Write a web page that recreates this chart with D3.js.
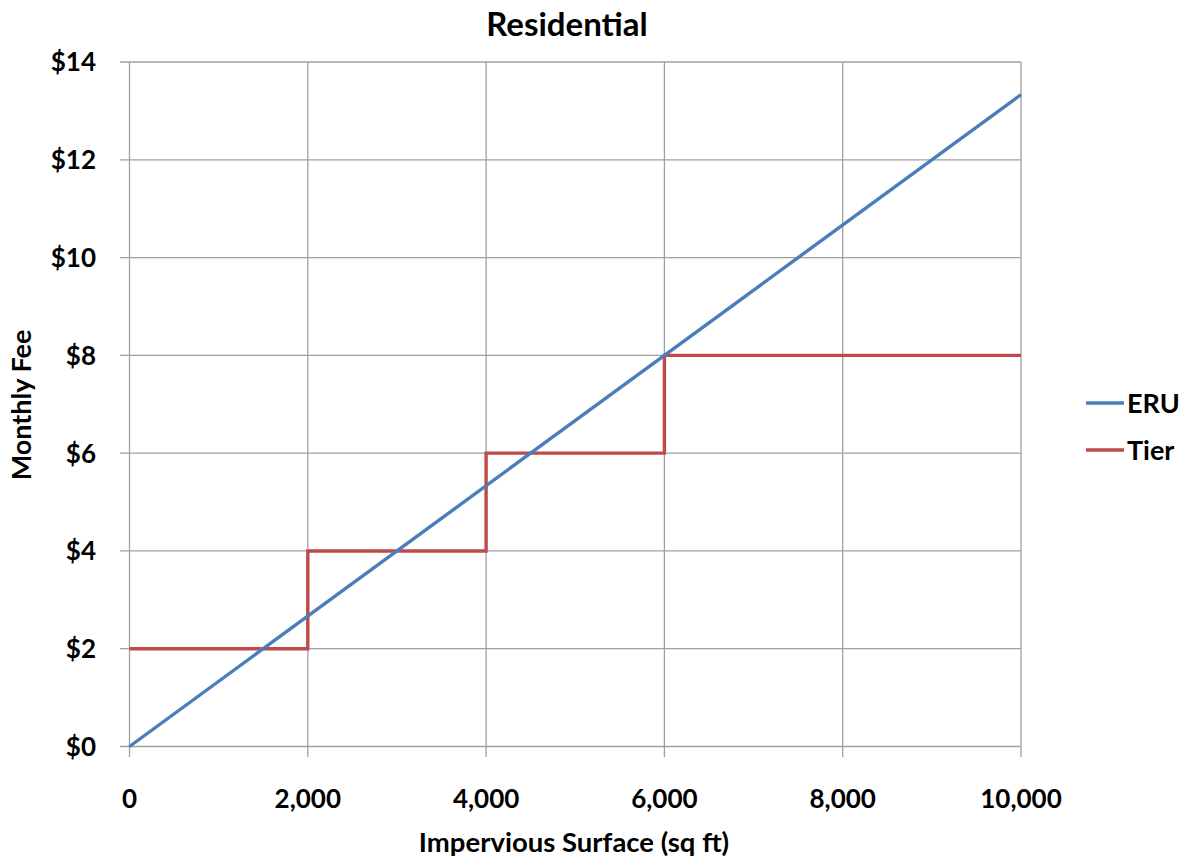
<!DOCTYPE html>
<html>
<head>
<meta charset="utf-8">
<script src="https://cdn.jsdelivr.net/npm/d3@7"></script>
<style>
  html, body { margin: 0; padding: 0; background: #fff; }
  svg { display: block; font-family: Lato, "Open Sans", sans-serif; font-weight: bold; }
</style>
</head>
<body>
<svg id="chart" width="1186" height="861"></svg>
<script>
// Impervious surface (sq ft) sample points and fee series
const eruX = [0, 10000];
const eruY = [0, 13.3333];           // $8 per 6,000 sq ft, linear
const tierX = [0, 2000, 2000, 4000, 4000, 6000, 6000, 10000];
const tierY = [2, 2, 4, 4, 6, 6, 8, 8];
const xTicks = [0, 2000, 4000, 6000, 8000, 10000];
const yTicks = [0, 2, 4, 6, 8, 10, 12, 14];
const seriesNames = ["ERU", "Tier"];
const seriesColors = ["#4a7ebb", "#be4b48"];

const svg = d3.select("#chart");
const x = d3.scaleLinear().domain([0, 10000]).range([129.5, 1021]);
const y = d3.scaleLinear().domain([0, 14]).range([746.5, 62]);

const grid = "#a0a0a0";

// horizontal gridlines (with left tick stubs)
svg.append("g").selectAll("line").data(yTicks).join("line")
  .attr("x1", 120).attr("x2", x(10000))
  .attr("y1", d => y(d)).attr("y2", d => y(d))
  .attr("stroke", grid).attr("stroke-width", 1.3);

// vertical gridlines (with bottom tick stubs)
svg.append("g").selectAll("line").data(xTicks).join("line")
  .attr("x1", d => x(d)).attr("x2", d => x(d))
  .attr("y1", y(14)).attr("y2", 757)
  .attr("stroke", grid).attr("stroke-width", 1.3);

// y tick labels
svg.append("g").selectAll("text").data(yTicks).join("text")
  .attr("x", 96).attr("y", d => y(d)).attr("dy", "0.36em")
  .attr("text-anchor", "end").attr("font-size", 26).attr("fill", "#000")
  .text(d => "$" + d);

// x tick labels
const fmt = d3.format(",");
svg.append("g").selectAll("text").data(xTicks).join("text")
  .attr("x", d => x(d)).attr("y", 808)
  .attr("text-anchor", "middle").attr("font-size", 26).attr("fill", "#000")
  .text(d => fmt(d));

// series lines
const line = d3.line().x(d => x(d[0])).y(d => y(d[1]));
svg.append("path").datum(d3.zip(tierX, tierY))
  .attr("d", line).attr("fill", "none")
  .attr("stroke", seriesColors[1]).attr("stroke-width", 3.4)
  .attr("stroke-linejoin", "miter");
svg.append("path").datum(d3.zip(eruX, eruY))
  .attr("d", line).attr("fill", "none")
  .attr("stroke", seriesColors[0]).attr("stroke-width", 3.4);

// title and axis titles
svg.append("text").attr("x", 567).attr("y", 36)
  .attr("text-anchor", "middle").attr("font-size", 33).attr("fill", "#000")
  .text("Residential");
svg.append("text").attr("x", 574).attr("y", 852)
  .attr("text-anchor", "middle").attr("font-size", 27.5).attr("fill", "#000")
  .text("Impervious Surface (sq ft)");
svg.append("text")
  .attr("transform", "translate(31,405) rotate(-90)")
  .attr("text-anchor", "middle").attr("font-size", 27).attr("fill", "#000")
  .text("Monthly Fee");

// legend
const legend = svg.append("g").selectAll("g").data(seriesNames).join("g")
  .attr("transform", (d, i) => `translate(1086,${403 + i * 47})`);
legend.append("line").attr("x1", 0).attr("x2", 38).attr("y1", 0).attr("y2", 0)
  .attr("stroke", (d, i) => seriesColors[i]).attr("stroke-width", 3.4);
legend.append("text").attr("x", 41).attr("dy", "0.36em")
  .attr("font-size", 27).attr("fill", "#000").text(d => d);
</script>
</body>
</html>
